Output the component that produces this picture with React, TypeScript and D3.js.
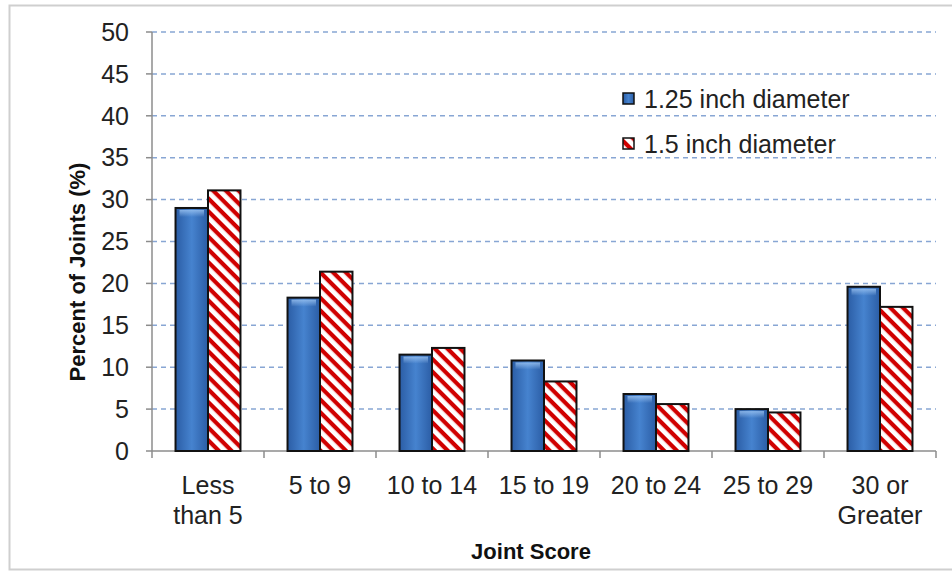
import * as d3 from "d3";
import { useEffect, useRef } from "react";

const categories = [
  "Less than 5",
  "5 to 9",
  "10 to 14",
  "15 to 19",
  "20 to 24",
  "25 to 29",
  "30 or Greater",
];
const categoryLines = [
  ["Less", "than 5"],
  ["5 to 9"],
  ["10 to 14"],
  ["15 to 19"],
  ["20 to 24"],
  ["25 to 29"],
  ["30 or", "Greater"],
];
const seriesNames = ["1.25 inch diameter", "1.5 inch diameter"];
const small = [29.0, 18.3, 11.5, 10.8, 6.8, 5.0, 19.6];
const large = [31.1, 21.4, 12.3, 8.3, 5.6, 4.6, 17.2];
const yTicks = [0, 5, 10, 15, 20, 25, 30, 35, 40, 45, 50];

const App = () => {
  const ref = useRef<HTMLDivElement>(null);

  useEffect(() => {
    const width = 952;
    const height = 571;
    const left = 152;
    const right = 936;
    const top = 32;
    const bottom = 451;
    const font = "'Liberation Sans', Arial, sans-serif";
    const fs = 25;

    d3.select(ref.current).select("svg").remove();

    const svg = d3
      .select(ref.current)
      .append("svg")
      .attr("width", width)
      .attr("height", height)
      .style("position", "absolute")
      .style("left", "0px")
      .style("top", "0px")
      .style("background", "#fff");

    const defs = svg.append("defs");
    const grad = defs
      .append("linearGradient")
      .attr("id", "blueGrad")
      .attr("x1", "0")
      .attr("x2", "1")
      .attr("y1", "0")
      .attr("y2", "0");
    grad.append("stop").attr("offset", "0%").attr("stop-color", "#2b5da5");
    grad.append("stop").attr("offset", "50%").attr("stop-color", "#4683cf");
    grad.append("stop").attr("offset", "100%").attr("stop-color", "#2b5da5");

    const shine = defs
      .append("linearGradient")
      .attr("id", "shine")
      .attr("x1", "0")
      .attr("x2", "0")
      .attr("y1", "0")
      .attr("y2", "1");
    shine.append("stop").attr("offset", "0%").attr("stop-color", "#9cc4f2").attr("stop-opacity", 0.8);
    shine.append("stop").attr("offset", "100%").attr("stop-color", "#9cc4f2").attr("stop-opacity", 0);

    const hatch = defs
      .append("pattern")
      .attr("id", "hatch")
      .attr("patternUnits", "userSpaceOnUse")
      .attr("width", 9)
      .attr("height", 9)
      .attr("patternTransform", "rotate(45)");
    hatch.append("rect").attr("width", 9).attr("height", 9).attr("fill", "#fff");
    hatch
      .append("rect")
      .attr("width", 9)
      .attr("height", 4.2)
      .attr("fill", "#d00000");

    // outer frame (right side runs off the picture)
    svg
      .append("path")
      .attr("d", "M960,5.5 H9.5 V569.5 H960")
      .attr("fill", "none")
      .attr("stroke", "#cfcfcf")
      .attr("stroke-width", 2);

    const x = d3
      .scaleBand()
      .domain(categories)
      .range([left, right])
      .paddingInner(0.42)
      .paddingOuter(0.21);
    const xs = d3
      .scaleBand()
      .domain(seriesNames)
      .range([0, x.bandwidth()]);
    const y = d3.scaleLinear().domain([0, 50]).range([bottom, top]);

    // grid
    svg
      .append("g")
      .selectAll("line")
      .data(yTicks.filter((d) => d > 0))
      .join("line")
      .attr("x1", left)
      .attr("x2", right)
      .attr("y1", (d) => y(d))
      .attr("y2", (d) => y(d))
      .attr("stroke", "#88a6d4")
      .attr("stroke-width", 1.5)
      .attr("stroke-dasharray", "5,4");

    // axes
    const ax = svg.append("g").attr("stroke", "#8c8c8c").attr("stroke-width", 1.5);
    ax.append("line").attr("x1", left).attr("x2", left).attr("y1", top).attr("y2", bottom);
    ax.append("line").attr("x1", left).attr("x2", right).attr("y1", bottom).attr("y2", bottom);
    ax.selectAll(".yt")
      .data(yTicks)
      .join("line")
      .attr("x1", left - 6)
      .attr("x2", left)
      .attr("y1", (d) => y(d))
      .attr("y2", (d) => y(d));
    const step = x.step();
    ax.selectAll(".xt")
      .data(d3.range(categories.length + 1))
      .join("line")
      .attr("x1", (i) => left + i * step)
      .attr("x2", (i) => left + i * step)
      .attr("y1", bottom)
      .attr("y2", bottom + 7);

    svg
      .append("g")
      .selectAll("text")
      .data(yTicks)
      .join("text")
      .attr("x", 129)
      .attr("y", (d) => y(d))
      .attr("dy", "0.35em")
      .attr("text-anchor", "end")
      .attr("font-family", font)
      .attr("font-size", fs)
      .attr("fill", "#222")
      .text((d) => d);

    // bars
    const data = [small, large];
    const fills = ["url(#blueGrad)", "url(#hatch)"];
    data.forEach((vals, si) => {
      const g = svg.append("g");
      const bx = (i: number) =>
        (x(categories[i]) as number) + (xs(seriesNames[si]) as number);
      g.selectAll("rect.bar")
        .data(vals)
        .join("rect")
        .attr("class", "bar")
        .attr("x", (d, i) => bx(i))
        .attr("y", (d) => y(d))
        .attr("width", xs.bandwidth())
        .attr("height", (d) => bottom - y(d))
        .attr("fill", fills[si])
        .attr("stroke", "#111")
        .attr("stroke-width", 2);
      if (si === 0) {
        g.selectAll("rect.shine")
          .data(vals)
          .join("rect")
          .attr("class", "shine")
          .attr("x", (d, i) => bx(i) + 4)
          .attr("y", (d) => y(d) + 2)
          .attr("width", xs.bandwidth() - 8)
          .attr("height", 7)
          .attr("fill", "url(#shine)");
      }
    });

    // category labels
    const cl = svg
      .append("g")
      .selectAll("text")
      .data(categoryLines)
      .join("text")
      .attr("text-anchor", "middle")
      .attr("font-family", font)
      .attr("font-size", fs)
      .attr("fill", "#222");
    cl.each(function (lines, i) {
      const cx = (x(categories[i]) as number) + x.bandwidth() / 2;
      d3.select(this)
        .selectAll("tspan")
        .data(lines)
        .join("tspan")
        .attr("x", cx)
        .attr("y", (d, j) => 494 + j * 30)
        .text((d) => d);
    });

    // axis titles
    svg
      .append("text")
      .attr("transform", "translate(85, 272) rotate(-90)")
      .attr("text-anchor", "middle")
      .attr("font-family", font)
      .attr("font-size", 22)
      .attr("font-weight", "bold")
      .attr("fill", "#111")
      .text("Percent of Joints (%)");
    svg
      .append("text")
      .attr("x", 531)
      .attr("y", 559)
      .attr("text-anchor", "middle")
      .attr("font-family", font)
      .attr("font-size", 22)
      .attr("font-weight", "bold")
      .attr("fill", "#111")
      .text("Joint Score");

    // legend
    const lg = svg
      .append("g")
      .selectAll("g")
      .data(seriesNames)
      .join("g")
      .attr("transform", (d, i) => `translate(623, ${93 + i * 45})`);
    lg.append("rect")
      .attr("width", 11)
      .attr("height", 11)
      .attr("fill", (d, i) => fills[i])
      .attr("stroke", "#111")
      .attr("stroke-width", 1.5);
    lg.append("text")
      .attr("x", 21)
      .attr("y", 6)
      .attr("dy", "0.35em")
      .attr("font-family", font)
      .attr("font-size", fs)
      .attr("fill", "#222")
      .text((d) => d);
  }, []);

  return <div ref={ref}></div>;
};

export default App;
